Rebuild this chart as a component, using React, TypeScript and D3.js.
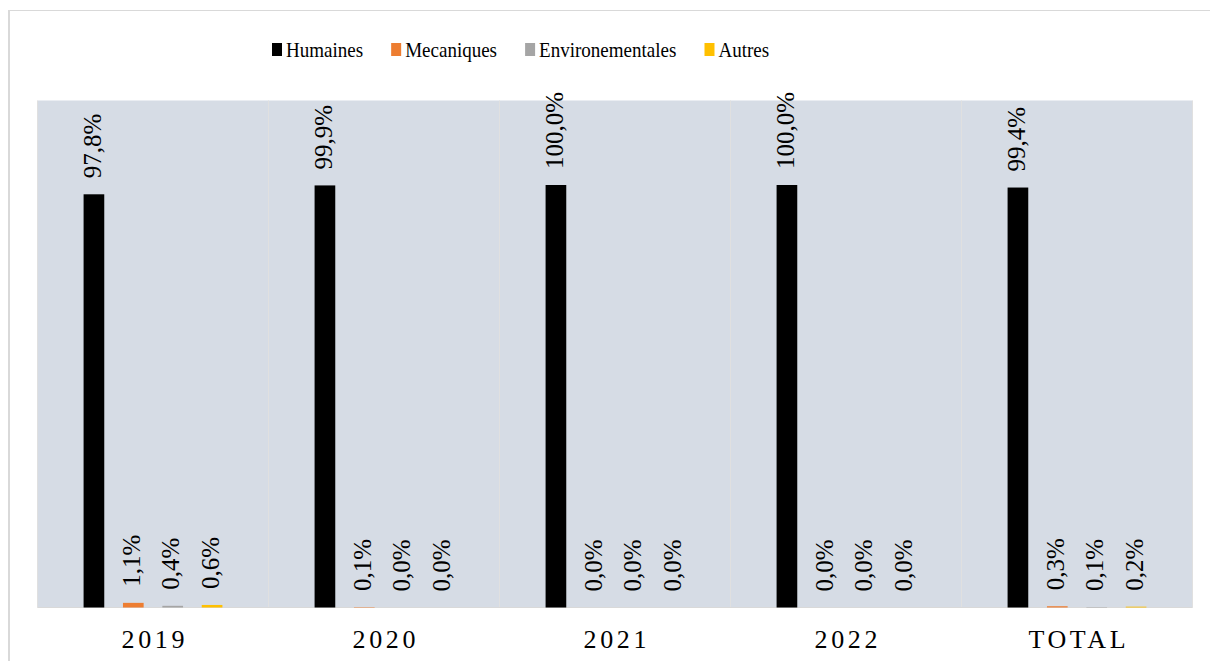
import React, { useMemo } from "react";
import * as d3 from "d3";

// Répartition des causes par année (en %)
const categories = ["2019", "2020", "2021", "2022", "TOTAL"];
const series = ["Humaines", "Mecaniques", "Environementales", "Autres"];
const colors = ["#000000", "#ed7d31", "#a5a5a5", "#ffc000"];
const humaines = [97.8, 99.9, 100.0, 100.0, 99.4];
const mecaniques = [1.1, 0.1, 0.0, 0.0, 0.3];
const environementales = [0.4, 0.0, 0.0, 0.0, 0.1];
const autres = [0.6, 0.0, 0.0, 0.0, 0.2];
const seriesValues = [humaines, mecaniques, environementales, autres];

const W = 1210;
const H = 661;
const FONT = "'Liberation Serif', 'Times New Roman', serif";

const plot = { left: 37.5, right: 1192.5, top: 100.5, bottom: 607.5 };

const fmt = (v: number) => v.toFixed(1).replace(".", ",") + "%";

function measure(text: string, size: number): number {
  const ctx = document.createElement("canvas").getContext("2d");
  if (!ctx) return text.length * size * 0.5;
  ctx.font = `${size}px ${FONT}`;
  return ctx.measureText(text).width;
}

export default function App() {
  const x = d3
    .scaleBand<string>()
    .domain(categories)
    .range([plot.left, plot.right])
    .padding(0);

  const xInner = d3
    .scaleBand<string>()
    .domain(series)
    .range([0, x.bandwidth()])
    .paddingInner(0.475)
    .paddingOuter(1.17);

  const y = d3.scaleLinear().domain([0, 120]).range([plot.bottom, plot.top]);

  const legendSize = 22;
  const legendScale = 0.865;
  const legend = useMemo(() => {
    let cx = 272;
    return series.map((s, i) => {
      const item = { name: s, color: colors[i], x: cx };
      cx += 10 + 4 + measure(s, legendSize) * legendScale + 28;
      return item;
    });
  }, []);

  const boundaries = categories.map((c) => x(c) as number).concat([plot.right]);

  return (
    <svg
      width={W}
      height={H}
      style={{ position: "absolute", left: 0, top: 0, background: "#ffffff" }}
      fontFamily={FONT}
    >
      {/* chart frame */}
      <line x1={9} x2={9} y1={10} y2={H} stroke="#d9d9d9" strokeWidth={2} />
      <line x1={8} x2={W} y1={10.5} y2={10.5} stroke="#d9d9d9" strokeWidth={1} />

      {/* plot area */}
      <rect
        x={plot.left}
        y={plot.top}
        width={plot.right - plot.left}
        height={plot.bottom - plot.top}
        fill="#d6dce5"
      />
      {boundaries.map((bx, i) => (
        <line
          key={"sep" + i}
          x1={bx}
          x2={bx}
          y1={plot.top}
          y2={plot.bottom}
          stroke="#e0e0e0"
          strokeWidth={1}
        />
      ))}
      <line
        x1={plot.left}
        x2={plot.right}
        y1={plot.bottom}
        y2={plot.bottom}
        stroke="#d9d9d9"
        strokeWidth={1}
      />

      {/* bars and value labels */}
      {categories.map((c, ci) => (
        <g key={c} transform={`translate(${x(c)},0)`}>
          {series.map((s, si) => {
            const v = seriesValues[si][ci];
            const bx = xInner(s) as number;
            const bw = xInner.bandwidth();
            const top = y(v);
            const cx = bx + bw / 2;
            return (
              <g key={s}>
                <rect x={bx} y={top} width={bw} height={plot.bottom - top} fill={colors[si]} />
                <text
                  transform={`translate(${cx},${top - 16}) rotate(-90)`}
                  dy="0.27em"
                  fontSize={25}
                  fill="#000000"
                  textAnchor="start"
                >
                  {fmt(v)}
                </text>
              </g>
            );
          })}
        </g>
      ))}

      {/* category axis labels */}
      {categories.map((c) => (
        <text
          key={"lab" + c}
          x={(x(c) as number) + x.bandwidth() / 2 + 1.8}
          y={648}
          fontSize={26}
          letterSpacing={3.6}
          textAnchor="middle"
          fill="#000000"
        >
          {c}
        </text>
      ))}

      {/* legend */}
      {legend.map((l) => (
        <g key={l.name}>
          <rect x={l.x} y={43} width={10} height={13} fill={l.color} />
          <text
            transform={`translate(${l.x + 14},56.5) scale(${legendScale},1)`}
            fontSize={legendSize}
            fill="#000000"
          >
            {l.name}
          </text>
        </g>
      ))}
    </svg>
  );
}
